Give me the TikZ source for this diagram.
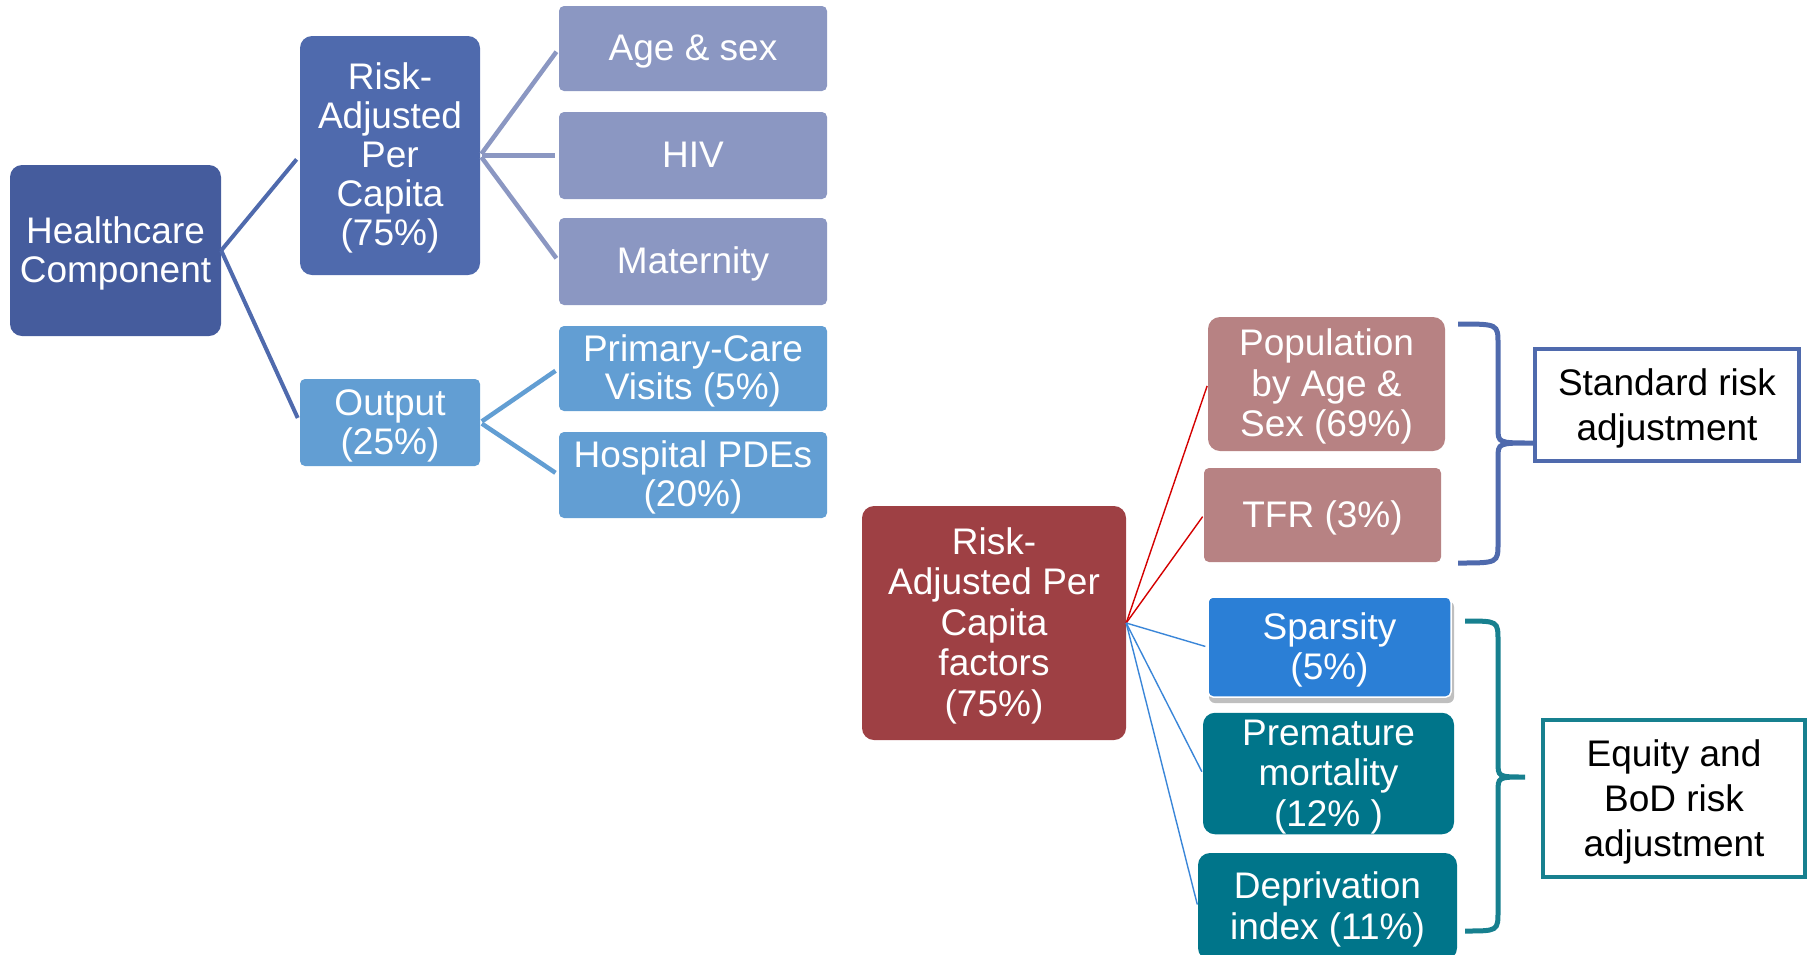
\documentclass[tikz,border=0pt]{standalone}
\usepackage{fontspec}
\setmainfont{Liberation Sans}
\definecolor{hcblue}{HTML}{455C9D}
\definecolor{rablue}{HTML}{4F6AAD}
\definecolor{outblue}{HTML}{629ED3}
\definecolor{lpurple}{HTML}{8B97C2}
\definecolor{rootred}{HTML}{9E4044}
\definecolor{pinkbox}{HTML}{B78283}
\definecolor{sparblue}{HTML}{2B7FD6}
\definecolor{tealbox}{HTML}{00758A}
\definecolor{tealline}{HTML}{17808F}
\definecolor{redline}{HTML}{D40000}
\definecolor{thinblue}{HTML}{3A86D8}
\newcommand{\boxtext}[1]{\raisebox{-4.2pt}[\height][\depth]{\begin{tabular}{@{}c@{}}#1\end{tabular}}}
\begin{document}
\begin{tikzpicture}[x=1pt,y=-1pt,
  box/.style={inner sep=0pt, text=white,
    font=\fontsize{37}{39}\selectfont},
  rbox/.style={box, font=\fontsize{37}{40.5}\selectfont},
  bigbox/.style={box, rounded corners=12pt},
  smallbox/.style={box, rounded corners=5pt},
  rbigbox/.style={rbox, rounded corners=12pt},
  rsmallbox/.style={rbox, rounded corners=5pt},
  labelbox/.style={inner sep=0pt, text=black, fill=white,
    line width=4.5pt, font=\fontsize{37}{45}\selectfont},
  thick conn/.style={line width=4pt, rablue},
  purple conn/.style={line width=4.5pt, lpurple},
  outconn/.style={line width=4.5pt, outblue},
  thin red/.style={line width=1.4pt, redline},
  thin blue/.style={line width=1.4pt, thinblue},
  brace1/.style={line width=5pt, rablue},
  brace2/.style={line width=5pt, tealline}
]
\useasboundingbox (0,0) rectangle (1812,954);
\clip (0,0) rectangle (1812,954);

% left tree
\node[bigbox, fill=hcblue, minimum width=211pt, minimum height=171pt] (hc) at (115.5,250.5) {\boxtext{Healthcare\\Component}};
\node[bigbox, fill=rablue, minimum width=180pt, minimum height=239pt] (rapc) at (390,155.5) {\boxtext{Risk-\\Adjusted\\Per\\Capita\\(75\%)}};
\node[smallbox, fill=outblue, minimum width=180pt, minimum height=87pt] (out) at (390,422.5) {\boxtext{Output\\(25\%)}};
\node[smallbox, fill=lpurple, minimum width=268pt, minimum height=85pt] (age) at (693,48.5) {\boxtext{Age \& sex}};
\node[smallbox, fill=lpurple, minimum width=268pt, minimum height=87pt] (hiv) at (693,155.5) {\boxtext{HIV}};
\node[smallbox, fill=lpurple, minimum width=268pt, minimum height=87pt] (mat) at (693,261.5) {\boxtext{Maternity}};
\node[smallbox, fill=outblue, minimum width=268pt, minimum height=85pt, font=\fontsize{37}{38}\selectfont] (pcv) at (693,368.5) {\boxtext{Primary-Care\\Visits (5\%)}};
\node[smallbox, fill=outblue, minimum width=268pt, minimum height=86pt] (hpd) at (693,475) {\boxtext{Hospital PDEs\\(20\%)}};

\draw[thick conn, shorten >=5pt] (hc.east) -- (rapc.west);
\draw[thick conn, shorten >=5pt] (hc.east) -- (out.west);
\draw[purple conn, shorten <=2pt, shorten >=4pt] (rapc.east) -- (age.west);
\draw[purple conn, shorten <=2pt, shorten >=4pt] (rapc.east) -- (hiv.west);
\draw[purple conn, shorten <=2pt, shorten >=4pt] (rapc.east) -- (mat.west);
\draw[outconn, shorten <=2pt, shorten >=4pt] (out.east) -- (pcv.west);
\draw[outconn, shorten <=2pt, shorten >=4pt] (out.east) -- (hpd.west);

% right tree
\node[rbigbox, fill=rootred, minimum width=264pt, minimum height=234pt] (root) at (994,623) {\boxtext{Risk-\\Adjusted Per\\Capita\\factors\\(75\%)}};
\node[rbigbox, fill=pinkbox, minimum width=237pt, minimum height=134pt] (pop) at (1326.5,384) {\boxtext{Population\\by Age \&\\Sex (69\%)}};
\node[rsmallbox, fill=pinkbox, minimum width=237pt, minimum height=94pt] (tfr) at (1322.5,515) {\boxtext{TFR (3\%)}};
\fill[black!25, rounded corners=6pt] (1209,601) rectangle (1454,703);
\node[rsmallbox, fill=sparblue, draw=white, line width=1.5pt, minimum width=243pt, minimum height=100pt] (spa) at (1329.5,647) {\boxtext{Sparsity\\(5\%)}};
\node[rbigbox, fill=tealbox, minimum width=251pt, minimum height=121pt] (pre) at (1328.5,773.5) {\boxtext{Premature\\mortality\\(12\% )}};
\node[rbigbox, fill=tealbox, minimum width=259pt, minimum height=107pt] (dep) at (1327.5,906.5) {\boxtext{Deprivation\\index (11\%)}};

\draw[thin red, shorten >=2pt] (root.east) -- (pop.west);
\draw[thin red, shorten >=2pt] (root.east) -- (tfr.west);
\draw[thin blue, shorten >=2pt] (root.east) -- (spa.west);
\draw[thin blue, shorten >=2pt] (root.east) -- (pre.west);
\draw[thin blue, shorten >=2pt] (root.east) -- (dep.west);

% label boxes
\node[labelbox, draw=rablue, minimum width=264pt, minimum height=112pt] (std) at (1667,405) {\boxtext{Standard risk\\adjustment}};
\node[labelbox, draw=tealline, minimum width=262pt, minimum height=157pt] (eq) at (1674,798.5) {\boxtext{Equity and\\BoD risk\\adjustment}};

% braces
\coordinate (b1top) at (1458,324);
\coordinate (b1bot) at (1458,563);
\coordinate (b1tip) at (std.west |- 1498,443);
\draw[brace1] (b1top) .. controls (1498,324) .. (1498,344) -- (1498,428)
  .. controls (1498,443) .. (b1tip)
  (b1tip) .. controls (1498,443) .. (1498,458) -- (1498,543)
  .. controls (1498,563) .. (b1bot);
\coordinate (b2top) at (1465,621);
\coordinate (b2bot) at (1465,931);
\coordinate (b2tip) at (1525,777);
\draw[brace2] (b2top) .. controls (1498,621) .. (1498,641) -- (1498,762)
  .. controls (1498,777) .. (b2tip)
  (b2tip) .. controls (1498,777) .. (1498,792) -- (1498,911)
  .. controls (1498,931) .. (b2bot);
\end{tikzpicture}
\end{document}
